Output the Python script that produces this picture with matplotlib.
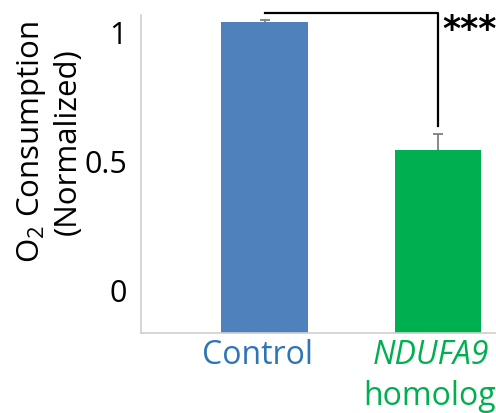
import numpy as np
import matplotlib
matplotlib.use('Agg')
import matplotlib.pyplot as plt

# data
groups = ['Control', 'NDUFA9']
values = [1.044, 0.545]
errors = [0.005, 0.061]
bar_colors = ['#4f81bd', '#00b050']
yticks = [0, 0.5, 1]
ytick_labels = ['0', '0.5', '1']
sig_label = '***'
sig_y = 1.077
sig_drop = 0.638

plt.rcParams['font.family'] = ['Open Sans', 'DejaVu Sans']
plt.rcParams['mathtext.fontset'] = 'custom'
plt.rcParams['mathtext.rm'] = 'Open Sans'
plt.rcParams['mathtext.it'] = 'Open Sans:italic'

ymin, ymax = -0.167, 1.07

fig = plt.figure(figsize=(4.96, 4.13), dpi=100)
ax = fig.add_axes([0.2843, 0.1937, 0.7157, 0.77])

pos = np.arange(len(groups))
ax.bar(pos, [v - ymin for v in values], bottom=ymin, width=0.5,
       color=bar_colors, zorder=2)
ax.errorbar(pos, values, yerr=errors, fmt='none', ecolor='#7f7f7f',
            elinewidth=1.3, capsize=3.8, capthick=1.3, zorder=1)

ax.set_xlim(-0.714, 1.335)
ax.set_ylim(ymin, ymax)
ax.set_yticks(yticks)
ax.set_yticklabels(ytick_labels, fontsize=22)
ax.set_xticks([])
ax.tick_params(axis='y', length=0, pad=10)
for s in ['top', 'right']:
    ax.spines[s].set_visible(False)
for s in ['left', 'bottom']:
    ax.spines[s].set_color('#d0d0d0')
    ax.spines[s].set_linewidth(1.2)

# significance bracket
ax.plot([0, 1, 1], [sig_y, sig_y, sig_drop], color='black', lw=1.6,
        clip_on=False, zorder=4)
ax.text(1.025, 1.01, sig_label, fontsize=25, fontweight='bold',
        family='DejaVu Sans', ha='left', va='center', clip_on=False)

# category labels
xt = ax.get_xaxis_transform()
ax.text(-0.04, -0.072, 'Control', color='#2e75b6', fontsize=23,
        ha='center', va='center', transform=xt)
ax.text(0.96, -0.072, groups[1], color='#00b050', fontsize=23,
        style='italic', ha='center', va='center', transform=xt)
ax.text(0.95, -0.2, 'homolog', color='#00b050', fontsize=23,
        ha='center', va='center', transform=xt)

fig.text(48.5 / 496, 1 - 142 / 413, 'O$_2$ Consumption\n(Normalized)',
         rotation=90, fontsize=22.5, ha='center', va='center',
         linespacing=1.2)

fig.savefig('out.png', dpi=100)
